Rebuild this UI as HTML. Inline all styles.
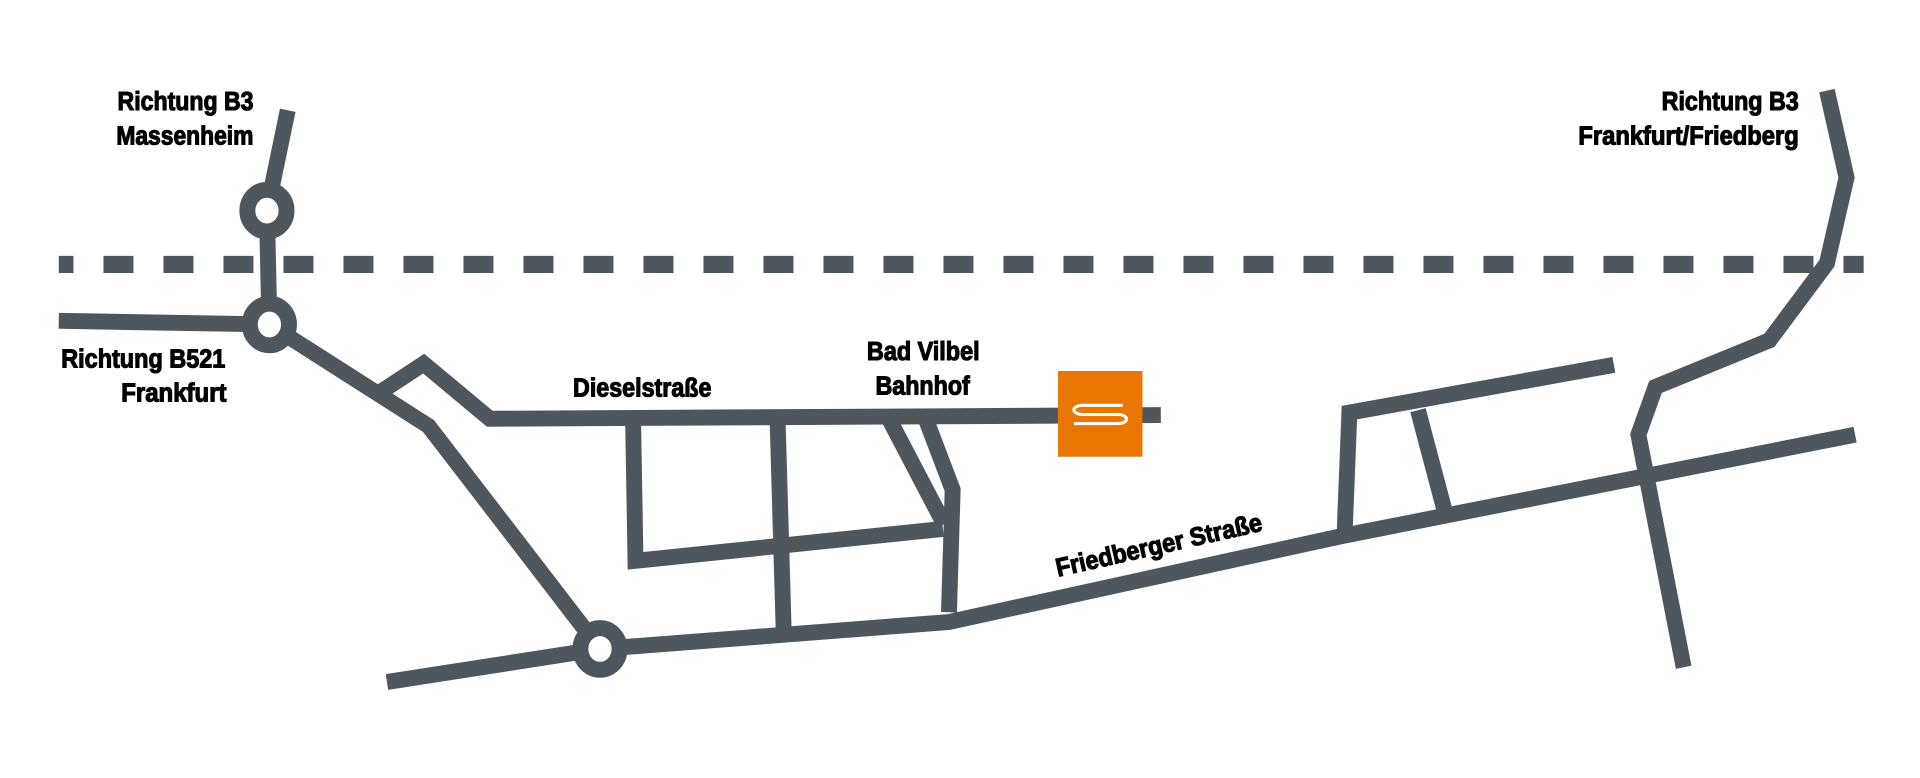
<!DOCTYPE html>
<html><head><meta charset="utf-8"><style>
html,body{margin:0;padding:0;background:#fff;}
svg{display:block;}
text{font-family:"Liberation Sans Narrow","Liberation Sans",sans-serif;font-weight:bold;font-size:21px;fill:#000;stroke:#000;stroke-width:0.9;}
</style></head><body>
<svg width="1920" height="778" viewBox="0 0 1568 635.4" preserveAspectRatio="none" xmlns="http://www.w3.org/2000/svg">
<g fill="none" stroke="#4f575e" stroke-width="13" stroke-linejoin="miter">
<line x1="48" y1="216" x2="1522" y2="216" stroke-width="14" stroke-dasharray="24.5 24.5" stroke-dashoffset="12.5"/>
<polyline points="235,90 218,172 220,265"/>
<line x1="48" y1="262" x2="220" y2="265"/>
<polyline points="220,265 350,348 490,530"/>
<polyline points="308,322 346,297 400,342 948,339"/>
<polyline points="517,342 519,458 770,432"/>
<line x1="635" y1="342" x2="640" y2="515"/>
<line x1="726" y1="342" x2="771" y2="428"/>
<polyline points="756,342 778,400 775,500"/>
<polyline points="316,557 490,530 775,508 1095,438 1515,355"/>
<polyline points="1098,438 1102,337 1318,298"/>
<line x1="1158" y1="335" x2="1180" y2="418"/>
<polyline points="1492,74 1508,145 1492,215 1445,278 1352,316 1338,355 1375,545"/>
<ellipse cx="218" cy="172" rx="16" ry="17" fill="#fff"/>
<ellipse cx="220" cy="265" rx="16" ry="17" fill="#fff"/>
<ellipse cx="490" cy="530" rx="16" ry="17" fill="#fff"/>
</g>
<rect x="864" y="303" width="69" height="70" fill="#e87600"/>
<path d="M917,331 H884 a7,3.75 0 0 0 0,7.5 H913 a7,3.75 0 0 1 0,7.5 H877" fill="none" stroke="#fff" stroke-width="2.5"/>
<g>
<text x="207" y="90" text-anchor="end" textLength="111" lengthAdjust="spacingAndGlyphs">Richtung B3</text>
<text x="207" y="118" text-anchor="end" textLength="112" lengthAdjust="spacingAndGlyphs">Massenheim</text>
<text x="50" y="300" textLength="134" lengthAdjust="spacingAndGlyphs">Richtung B521</text>
<text x="99" y="328" textLength="86" lengthAdjust="spacingAndGlyphs">Frankfurt</text>
<text x="468" y="324" textLength="113" lengthAdjust="spacingAndGlyphs">Dieselstraße</text>
<text x="708" y="294" textLength="92" lengthAdjust="spacingAndGlyphs">Bad Vilbel</text>
<text x="715" y="322" textLength="77" lengthAdjust="spacingAndGlyphs">Bahnhof</text>
<text x="1357" y="90" textLength="112" lengthAdjust="spacingAndGlyphs">Richtung B3</text>
<text x="1289" y="118" textLength="180" lengthAdjust="spacingAndGlyphs">Frankfurt/Friedberg</text>
<text x="864" y="471" textLength="172" lengthAdjust="spacingAndGlyphs" transform="rotate(-12.7 864 471)">Friedberger Straße</text>
</g>
</svg>
</body></html>
